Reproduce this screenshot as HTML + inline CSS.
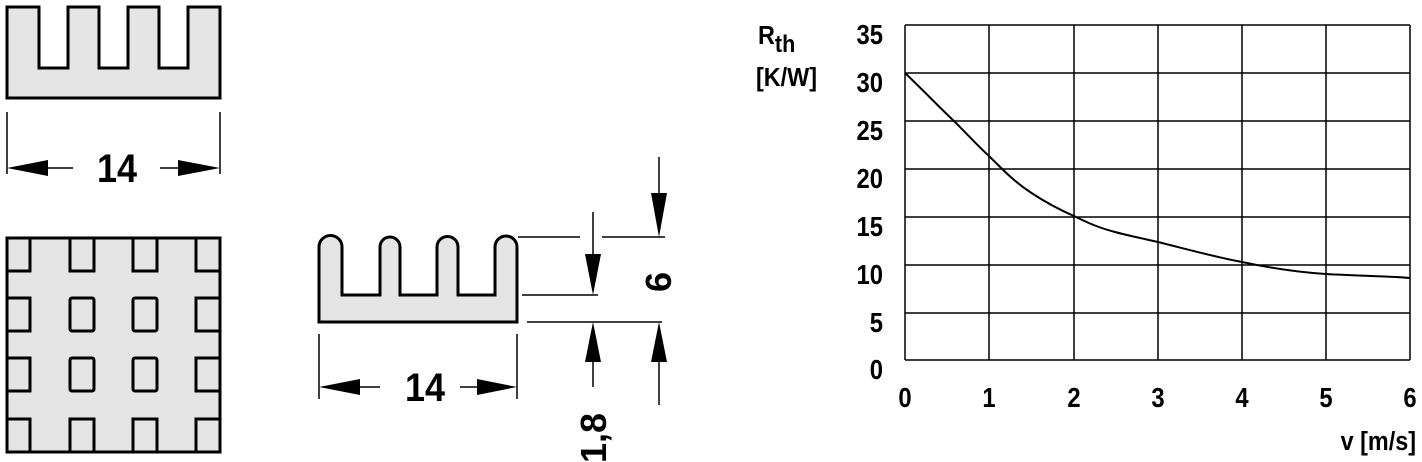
<!DOCTYPE html>
<html><head><meta charset="utf-8"><style>
html,body{margin:0;padding:0;background:#fff;}
svg{display:block;}
text{font-family:"Liberation Sans",sans-serif;font-weight:bold;fill:#000;}
</style></head><body>
<svg width="1422" height="462" viewBox="0 0 1422 462" xmlns="http://www.w3.org/2000/svg">
<path d="M7,7 H39 V68 H68 V7 H99 V68 H128 V7 H159 V68 H188 V7 H220 V98 H7 Z" fill="#e5e5e5" stroke="#000" stroke-width="3"/>
<g stroke="#000" stroke-width="1.5"><line x1="7" y1="112" x2="7" y2="174"/><line x1="220" y1="112" x2="220" y2="174"/>
<line x1="40" y1="168" x2="73" y2="168"/><line x1="160" y1="168" x2="185" y2="168"/></g>
<polygon points="7,168 48,160 48,176" fill="#000"/><polygon points="220,168 178,160 178,176" fill="#000"/>
<text transform="translate(117,182) scale(0.9,1)" font-size="40" text-anchor="middle">14</text>
<rect x="7" y="238" width="213" height="214" fill="#e5e5e5" stroke="#000" stroke-width="3"/>
<g fill="none" stroke="#000" stroke-width="3">
<path d="M7,271 H30 V238"/><path d="M70,238 V271 H94 V238"/><path d="M133,238 V271 H157 V238"/><path d="M220,271 H196 V238"/>
<path d="M7,298 H30 V331 H7"/><rect x="70" y="298" width="24" height="33" rx="2"/><rect x="133" y="298" width="24" height="33" rx="2"/><path d="M220,298 H196 V331 H220"/>
<path d="M7,358 H30 V391 H7"/><rect x="70" y="358" width="24" height="33" rx="2"/><rect x="133" y="358" width="24" height="33" rx="2"/><path d="M220,358 H196 V391 H220"/>
<path d="M7,419 H30 V452"/><path d="M70,452 V419 H94 V452"/><path d="M133,452 V419 H157 V452"/><path d="M220,419 H196 V452"/>
</g>
<path d="M319,322 V247 A11.5,11.5 0 0 1 342,247 V295 H380 V247 A10,10 0 0 1 400,247 V295 H437 V247 A10.5,10.5 0 0 1 458,247 V295 H495 V247 A11,11 0 0 1 517,247 V322 Z" fill="#e5e5e5" stroke="#000" stroke-width="3"/>
<g stroke="#000" stroke-width="1.5">
<line x1="319" y1="334" x2="319" y2="399"/><line x1="517" y1="334" x2="517" y2="399"/>
<line x1="340" y1="387" x2="380" y2="387"/><line x1="460" y1="387" x2="490" y2="387"/>
<line x1="518" y1="237" x2="580" y2="237"/><line x1="602" y1="237" x2="665" y2="237"/>
<line x1="522" y1="295" x2="598" y2="295"/><line x1="527" y1="322" x2="662" y2="322"/>
<line x1="593" y1="212" x2="593" y2="260"/><line x1="593" y1="355" x2="593" y2="387"/>
<line x1="659" y1="157" x2="659" y2="200"/><line x1="659" y1="355" x2="659" y2="405"/>
</g>
<g fill="#000">
<polygon points="319,387 360,379 360,395"/><polygon points="517,387 477,379 477,395"/>
<polygon points="593,295 585,254 601,254"/><polygon points="593,322 585,362 601,362"/>
<polygon points="659,237 651,193 667,193"/><polygon points="659,322 651,362 667,362"/>
</g>
<text transform="translate(425,401) scale(0.9,1)" font-size="40" text-anchor="middle">14</text>
<text transform="translate(671,282) rotate(-90)" font-size="36" text-anchor="middle">6</text>
<text transform="translate(606,438) rotate(-90)" font-size="36" text-anchor="middle">1,8</text>
<g stroke="#000" stroke-width="1.5">
<line x1="905" y1="25" x2="1410" y2="25"/><line x1="905" y1="73" x2="1410" y2="73"/><line x1="905" y1="121" x2="1410" y2="121"/><line x1="905" y1="169" x2="1410" y2="169"/><line x1="905" y1="217" x2="1410" y2="217"/><line x1="905" y1="265" x2="1410" y2="265"/><line x1="905" y1="313" x2="1410" y2="313"/><line x1="905" y1="360" x2="1410" y2="360"/>
<line x1="905" y1="25" x2="905" y2="360"/><line x1="989" y1="25" x2="989" y2="360"/><line x1="1074" y1="25" x2="1074" y2="360"/><line x1="1158" y1="25" x2="1158" y2="360"/><line x1="1242" y1="25" x2="1242" y2="360"/><line x1="1326" y1="25" x2="1326" y2="360"/><line x1="1410" y1="25" x2="1410" y2="360"/>
</g>
<path d="M905,73 C925,92 940,108 955,122 C970,137 980,148 989,156 C1005,172 1015,182 1030,192 C1045,202 1060,210 1074,216 C1090,224 1100,228 1115,232 C1130,236 1145,239 1158,242 C1190,250 1215,257 1242,262 C1270,268 1295,272 1326,274 C1360,276 1390,276 1410,278" fill="none" stroke="#000" stroke-width="2"/>
<g font-size="28" text-anchor="end">
<text transform="translate(883,44) scale(0.85,1)">35</text><text transform="translate(883,92) scale(0.85,1)">30</text><text transform="translate(883,140) scale(0.85,1)">25</text><text transform="translate(883,188) scale(0.85,1)">20</text><text transform="translate(883,236) scale(0.85,1)">15</text><text transform="translate(883,284) scale(0.85,1)">10</text><text transform="translate(883,332) scale(0.85,1)">5</text><text transform="translate(883,379) scale(0.85,1)">0</text>
</g>
<g font-size="28" text-anchor="middle">
<text transform="translate(905,407) scale(0.85,1)">0</text><text transform="translate(989,407) scale(0.85,1)">1</text><text transform="translate(1074,407) scale(0.85,1)">2</text><text transform="translate(1158,407) scale(0.85,1)">3</text><text transform="translate(1242,407) scale(0.85,1)">4</text><text transform="translate(1326,407) scale(0.85,1)">5</text><text transform="translate(1410,407) scale(0.85,1)">6</text>
</g>
<text transform="translate(1416,450) scale(0.9,1)" font-size="26" text-anchor="end" font-weight="normal">v [m/s]</text>
<text transform="translate(758,44) scale(0.9,1)" font-size="26" font-weight="normal">R<tspan font-size="24" dy="8">th</tspan></text>
<text transform="translate(756,86) scale(0.9,1)" font-size="26" font-weight="normal">[K/W]</text>
</svg>
</body></html>
